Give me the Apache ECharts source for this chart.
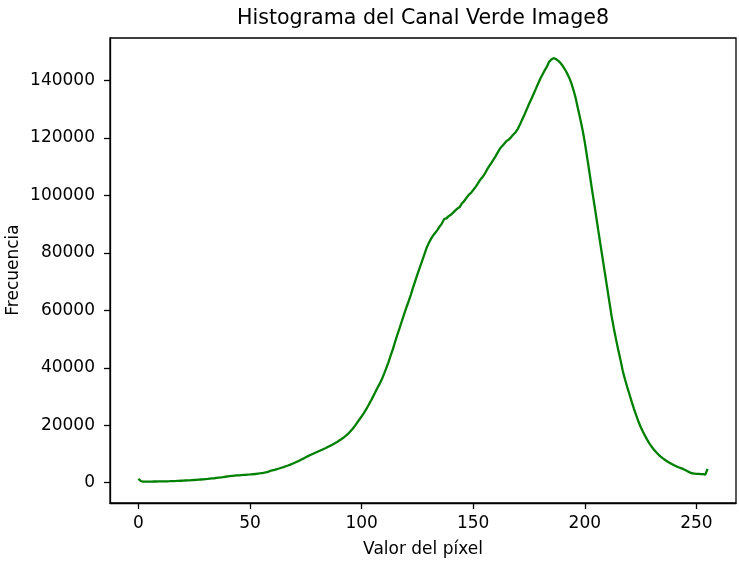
<!DOCTYPE html>
<html>
<head>
<meta charset="utf-8">
<script src="https://cdn.jsdelivr.net/npm/echarts@6/dist/echarts.min.js"></script>
<style>
   html, body { margin: 0; padding: 0; background: #fff; }
   #chart { width: 739px; height: 562px; }
</style>
</head>
<body>
<div id="chart"></div>
<script>
// frecuencia por valor de pixel (0..255)
const frecuencias = [
   1400, 600, 350, 350, 380, 400, 400, 420, 430, 440, 450, 460, 480, 500, 520, 550,
   580, 610, 650, 690, 730, 770, 810, 850, 900, 950, 1000, 1060, 1120, 1180, 1250, 1320,
   1400, 1480, 1560, 1650, 1740, 1830, 1950, 2080, 2200, 2300, 2380, 2450, 2520, 2580, 2640, 2700,
   2760, 2820, 2880, 2950, 3030, 3120, 3220, 3330, 3450, 3600, 3780, 4100, 4300, 4500, 4720, 4950,
   5200, 5450, 5720, 6000, 6300, 6620, 6950, 7300, 7650, 8050, 8450, 8850, 9250, 9650, 10000, 10350,
   10700, 11050, 11400, 11750, 12100, 12500, 12900, 13300, 13750, 14200, 14700, 15200, 15750, 16400, 17100, 17900,
   18800, 19800, 20900, 22000, 23100, 24200, 25500, 26900, 28300, 29800, 31300, 32900, 34300, 35900, 37800, 39800,
   41900, 44200, 46500, 49000, 51500, 53800, 56200, 58600, 60900, 63000, 65300, 67800, 70200, 72500, 74800, 77000,
   79200, 81500, 83300, 84800, 86000, 87000, 88000, 89200, 90300, 91800, 92000, 92800, 93300, 94000, 94800, 95500,
   96000, 97300, 98100, 99200, 100200, 100900, 101900, 102900, 104000, 105300, 106200, 107300, 108700, 110000, 111200, 112400,
   113600, 115000, 116300, 117200, 118100, 119000, 119500, 120300, 121200, 122000, 123200, 124800, 126500, 128200, 130000, 131800,
   133500, 135200, 137000, 138800, 140500, 142000, 143500, 144800, 146500, 147300, 147800, 147500, 146900, 146200, 145200, 144000,
   142600, 141000, 139000, 136500, 133600, 130000, 126500, 122800, 118500, 113500, 108500, 103200, 98200, 93200, 88000, 83000,
   78000, 73000, 68000, 63000, 58000, 53800, 49900, 46200, 42700, 39000, 36000, 33300, 30800, 28200, 25800, 23500,
   21400, 19500, 17800, 16300, 14900, 13600, 12500, 11500, 10600, 9800, 9100, 8500, 7900, 7400, 6900, 6500,
   6100, 5700, 5400, 5100, 4800, 4400, 4000, 3600, 3300, 3200, 3100, 3050, 3000, 3000, 2800, 4800
]
const xTicks = [0, 50, 100, 150, 200, 250]
const yTicks = [0, 20000, 40000, 60000, 80000, 100000, 120000, 140000]

const font = 'DejaVu Sans'
const chart = echarts.init(document.getElementById('chart'), null, { renderer: 'canvas' })

const option = {
   animation: false,
   backgroundColor: '#fff',
   grid: {
      left: 110, right: 3, top: 38, bottom: 59,
      containLabel: false,
      outerBoundsMode: 'none',
      show: true, borderColor: '#000', borderWidth: 1.3, backgroundColor: 'transparent'
   },
   graphic: [{
      type: 'text',
      x: 423,
      y: 19,
      style: {
         text: 'Histograma del Canal Verde Image8',
         fill: '#000',
         font: '20.6px "DejaVu Sans"',
         textAlign: 'center',
         textVerticalAlign: 'middle'
      }
   }, {
      // titulo del eje y, girado
      type: 'text',
      x: 14,
      y: 270,
      rotation: Math.PI / 2,
      style: {
         text: 'Frecuencia',
         fill: '#000',
         font: '17px "DejaVu Sans"',
         textAlign: 'center',
         textVerticalAlign: 'middle'
      }
   }],
   xAxis: {
      type: 'value',
      min: -12.75,
      max: 267.75,
      name: 'Valor del píxel',
      nameLocation: 'middle',
      nameGap: 38,
      nameTextStyle: { color: '#000', fontFamily: font, fontSize: 17 },
      axisLine: { show: true, onZero: false, lineStyle: { color: '#000', width: 1.3 } },
      axisTick: { show: true, length: 6, customValues: xTicks, lineStyle: { color: '#000', width: 1.3 } },
      axisLabel: {
         customValues: xTicks, margin: 12, color: '#000', fontFamily: font, fontSize: 17,
         formatter: v => String(v)
      },
      splitLine: { show: false }
   },
   yAxis: {
      type: 'value',
      min: -7060,
      max: 154800,
      axisLine: { show: true, onZero: false, lineStyle: { color: '#000', width: 1.3 } },
      axisTick: { show: true, length: 6, customValues: yTicks, lineStyle: { color: '#000', width: 1.3 } },
      axisLabel: {
         customValues: yTicks, margin: 15, color: '#000', fontFamily: font, fontSize: 17,
         formatter: v => String(v)
      },
      splitLine: { show: false }
   },
   series: [{
      type: 'line',
      data: frecuencias.map((f, i) => [i, f]),
      symbol: 'none',
      lineStyle: { color: '#008000', width: 2.3 },
      itemStyle: { color: '#008000' }
   }]
}
chart.setOption(option)
</script>
</body>
</html>
